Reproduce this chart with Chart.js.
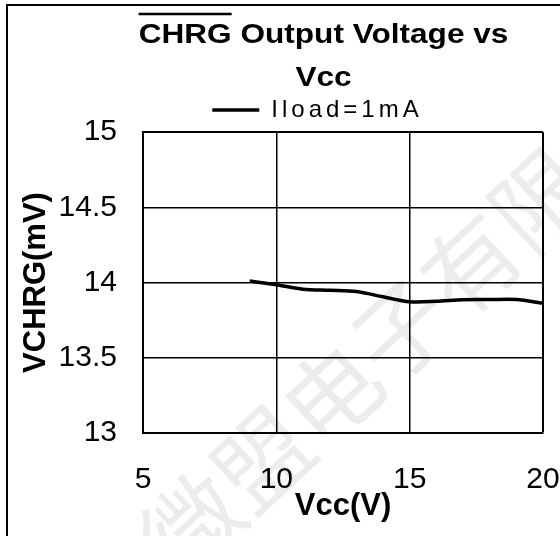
<!DOCTYPE html>
<html><head><meta charset="utf-8">
<script src="https://cdn.jsdelivr.net/npm/chart.js@4/dist/chart.umd.min.js"></script>
<style>
html,body{margin:0;padding:0;background:#fff;overflow:hidden;}
#wrap{position:relative;width:560px;height:536px;}
#frame{position:absolute;left:6px;top:4px;width:600px;height:600px;border-top:2px solid #000;border-left:2px solid #000;pointer-events:none;}
canvas{position:absolute;left:0;top:0;}
</style></head><body>
<div id="wrap"><canvas id="c" width="560" height="536"></canvas><div id="frame"></div></div>
<script>
const titleLines = ['CHRG Output Voltage vs', 'Vcc'];
const overlinedWord = 'CHRG';
const seriesLabel = 'Iload=1mA';
const vccValues = [9, 10, 11, 12, 13, 14, 15, 16, 17, 18, 19, 20];
const vchrgValues = [14.01, 13.985, 13.955, 13.948, 13.94, 13.905, 13.872, 13.875, 13.886, 13.887, 13.887, 13.862];
const xTickValues = [5, 10, 15, 20];
const yTickValues = [13, 13.5, 14, 14.5, 15];
const xAxisTitle = 'Vcc(V)';
const yAxisTitle = 'VCHRG(mV)';
const watermarkText = '微盟电子有限公司';

const FONT = '"Liberation Sans", Arial, sans-serif';
const TITLE_SIZE = 27, TITLE_LH = 43, TITLE_SCALE_X = 1.17, TITLE_DX = 52;
const LEGEND_SPACING = 4, LEGEND_DX = 46;

// horizontal placement / stretching of the title and legend boxes
const boxStylePlugin = {
  id: 'boxStyle',
  beforeLayout(chart) {
    const wrapDraw = (box, fn) => {
      if (!box || box.__wrapped) return;
      box.__wrapped = true;
      const orig = box.draw;
      box.draw = function (...args) {
        const ctx = chart.ctx;
        ctx.save();
        fn.call(this, ctx);
        try { return orig.apply(this, args); } finally { ctx.restore(); }
      };
      if (box === chart.legend) {
        const origFit = box.fit;
        box.fit = function (...args) {
          const ctx = chart.ctx;
          const prev = ctx.letterSpacing;
          ctx.letterSpacing = LEGEND_SPACING + 'px';
          try { return origFit.apply(this, args); } finally { ctx.letterSpacing = prev; }
        };
      }
    };
    wrapDraw(chart.titleBlock, function (ctx) {
      const cx = (this.left + this.right) / 2;
      ctx.translate(cx + TITLE_DX, 0);
      ctx.scale(TITLE_SCALE_X, 1);
      ctx.translate(-cx, 0);
    });
    wrapDraw(chart.legend, function (ctx) {
      ctx.translate(LEGEND_DX, 0);
      ctx.letterSpacing = LEGEND_SPACING + 'px';
    });
  }
};

const watermarkPlugin = {
  id: 'watermark',
  beforeDraw(chart) {
    const ctx = chart.ctx;
    ctx.save();
    ctx.translate(158, 556);
    ctx.rotate(-43 * Math.PI / 180);
    ctx.font = '95px "Noto Sans CJK SC"';
    ctx.fillStyle = '#ececec';
    ctx.fillText(watermarkText, 0, 0);
    ctx.restore();
  }
};

const overlinePlugin = {
  id: 'overline',
  afterDraw(chart) {
    const tb = chart.titleBlock;
    if (!tb) return;
    const ctx = chart.ctx;
    ctx.save();
    ctx.font = 'bold ' + TITLE_SIZE + 'px ' + FONT;
    const full = ctx.measureText(titleLines[0]).width * TITLE_SCALE_X;
    const wordW = ctx.measureText(overlinedWord).width * TITLE_SCALE_X;
    const cx = (tb.left + tb.right) / 2 + TITLE_DX;
    const x0 = cx - full / 2;
    const lineCenter = tb.top + tb.options.padding.top + TITLE_LH / 2;
    const y = lineCenter - 21.5;
    ctx.strokeStyle = '#000';
    ctx.lineWidth = 2.5;
    ctx.beginPath();
    ctx.moveTo(x0, y);
    ctx.lineTo(x0 + wordW, y);
    ctx.stroke();
    ctx.restore();
  }
};

new Chart(document.getElementById('c'), {
  type: 'line',
  data: {
    datasets: [{
      label: seriesLabel,
      data: vccValues.map((v, i) => ({ x: v, y: vchrgValues[i] })),
      borderColor: '#000',
      backgroundColor: '#000',
      borderWidth: 3.5,
      pointRadius: 0,
      pointStyle: 'line',
      tension: 0.3,
      fill: false
    }]
  },
  options: {
    responsive: false,
    animation: false,
    devicePixelRatio: 1,
    layout: { padding: { left: 0, right: 17, top: 0, bottom: 0 } },
    plugins: {
      title: {
        display: true,
        text: titleLines,
        color: '#000',
        font: { family: FONT, size: TITLE_SIZE, weight: 'bold', lineHeight: TITLE_LH + 'px' },
        padding: { top: 14, bottom: -2 }
      },
      legend: {
        display: true,
        labels: {
          color: '#000',
          font: { family: FONT, size: 24 },
          usePointStyle: true,
          pointStyle: 'line',
          pointStyleWidth: 47,
          padding: 0
        }
      },
      tooltip: { enabled: false }
    },
    scales: {
      x: {
        type: 'linear',
        min: 5, max: 20,
        afterBuildTicks: s => { s.ticks = xTickValues.map(v => ({ value: v })); },
        afterFit: s => { s.height = 103; },
        ticks: { color: '#000', font: { family: FONT, size: 30 }, padding: 0, maxRotation: 0, callback: v => String(v) },
        grid: { color: '#000', lineWidth: c => (c.tick && c.tick.value === 20 ? 2 : 1.5), drawTicks: true, tickLength: 29, tickColor: 'rgba(0,0,0,0)' },
        border: { color: '#000', width: 2 },
        title: { display: true, text: xAxisTitle, color: '#000', font: { family: FONT, size: 31, weight: 'bold' }, padding: { top: 0, bottom: 11 } }
      },
      y: {
        type: 'linear',
        min: 13, max: 15,
        afterBuildTicks: s => { s.ticks = yTickValues.map(v => ({ value: v })); },
        afterFit: s => { s.width = 143; },
        ticks: { color: '#000', font: { family: FONT, size: 30 }, padding: 26, callback: v => String(v) },
        grid: { color: '#000', lineWidth: c => (c.tick && c.tick.value === 15 ? 2 : 1.5), drawTicks: false },
        border: { color: '#000', width: 2 },
        title: { display: true, text: yAxisTitle, color: '#000', font: { family: FONT, size: 31, weight: 'bold' }, padding: { top: 17.4, bottom: 0 } }
      }
    }
  },
  plugins: [boxStylePlugin, watermarkPlugin, overlinePlugin]
});
</script>
</body></html>
